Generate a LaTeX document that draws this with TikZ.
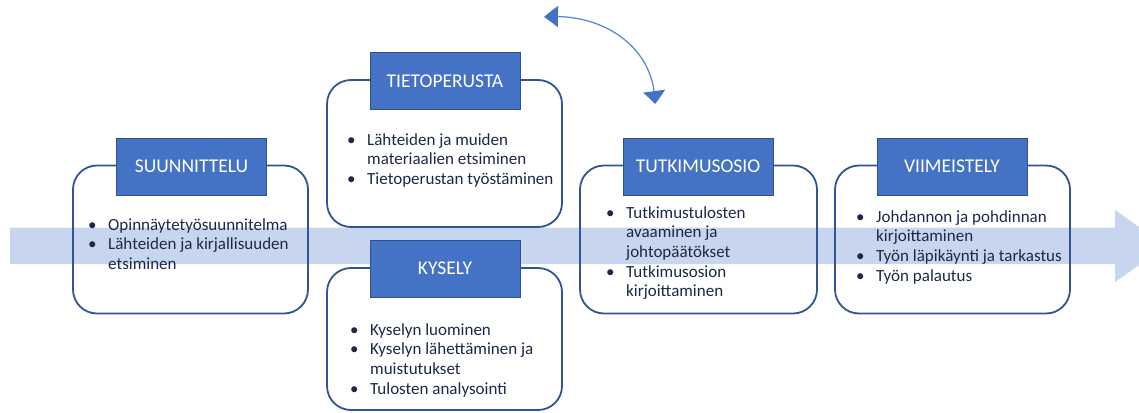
\documentclass[tikz,border=0pt]{standalone}
\usepackage{fontspec}
\setmainfont{Carlito}
\usetikzlibrary{arrows.meta,bending}
\definecolor{hdrfill}{RGB}{68,114,196}
\definecolor{hdrline}{RGB}{47,82,143}
\definecolor{boxline}{RGB}{47,85,151}
\definecolor{bandcol}{RGB}{200,213,238}
\definecolor{txtcol}{RGB}{28,40,72}
\definecolor{curvecol}{RGB}{91,139,214}
\newcommand{\bodyfont}{\fontsize{17}{19.7}\selectfont}
\newcommand{\blist}[1]{\bodyfont\begin{tabular}[t]{@{}p{20pt}@{}l@{}}#1\end{tabular}}
\begin{document}
\begin{tikzpicture}[x=1pt,y=-1pt,
  phasebox/.style={draw=boxline,line width=1.8pt,rounded corners=24pt,minimum width=235pt,minimum height=148pt,inner sep=0pt},
  hdr/.style={draw=hdrline,line width=0.6pt,fill=hdrfill,minimum width=150pt,minimum height=57pt,inner sep=0pt,text=white,font=\fontsize{19.5}{22}\selectfont},
  items/.style={anchor=base west,inner sep=0pt,text=txtcol},
  band/.style={fill=bandcol,draw=none},
  cyc/.style={draw=curvecol,line width=1.3pt,{Triangle[width=21pt,length=14pt,color=hdrfill,bend]}-{Triangle[width=22pt,length=13pt,color=hdrfill,bend]}}
]
\useasboundingbox (0,0) rectangle (1139,412);
% process band
\fill[band] (10,227.5) -- (1115,227.5) -- (1115,210) -- (1166,246) -- (1115,282) -- (1115,264) -- (10,264) -- cycle;
% boxes
\node[phasebox] (b1) at (190.5,239.5) {};
\node[phasebox,minimum height=147pt] (b2) at (444.5,153.5) {};
\node[phasebox,minimum height=142pt] (b3) at (444.5,339) {};
\node[phasebox,minimum width=237pt] (b4) at (698.5,239.5) {};
\node[phasebox] (b5) at (952.5,239.5) {};
% headers
\node[hdr] (h1) at (191.5,166.5) {SUUNNITTELU};
\node[hdr] (h2) at (445,81) {TIETOPERUSTA};
\node[hdr] (h3) at (445,268.5) {KYSELY};
\node[hdr] (h4) at (698,166.5) {TUTKIMUSOSIO};
\node[hdr] (h5) at (952,166.5) {VIIMEISTELY};
% contents
\node[items] (t1) at (88,230) {\blist{•&Opinnäytetyösuunnitelma\\ •&Lähteiden ja kirjallisuuden\\ &etsiminen}};
\node[items] (t2) at (347,145) {\blist{•&Lähteiden ja muiden\\ &materiaalien etsiminen\\ •&Tietoperustan työstäminen}};
\node[items] (t3) at (350,335) {\blist{•&Kyselyn luominen\\ •&Kyselyn lähettäminen ja\\ &muistutukset\\ •&Tulosten analysointi}};
\node[items] (t4) at (606,218) {\blist{•&Tutkimustulosten\\ &avaaminen ja\\ &johtopäätökset\\ •&Tutkimusosion\\ &kirjoittaminen}};
\node[items] (t5) at (856,222) {\blist{•&Johdannon ja pohdinnan\\ &kirjoittaminen\\ •&Työn läpikäynti ja tarkastus\\ •&Työn palautus}};
% cycle arrow
\coordinate (ca) at (544,17);
\coordinate (cb) at (655,104);
\draw[cyc] (ca) .. controls (600,12) and (655,45) .. (cb);
\end{tikzpicture}
\end{document}
